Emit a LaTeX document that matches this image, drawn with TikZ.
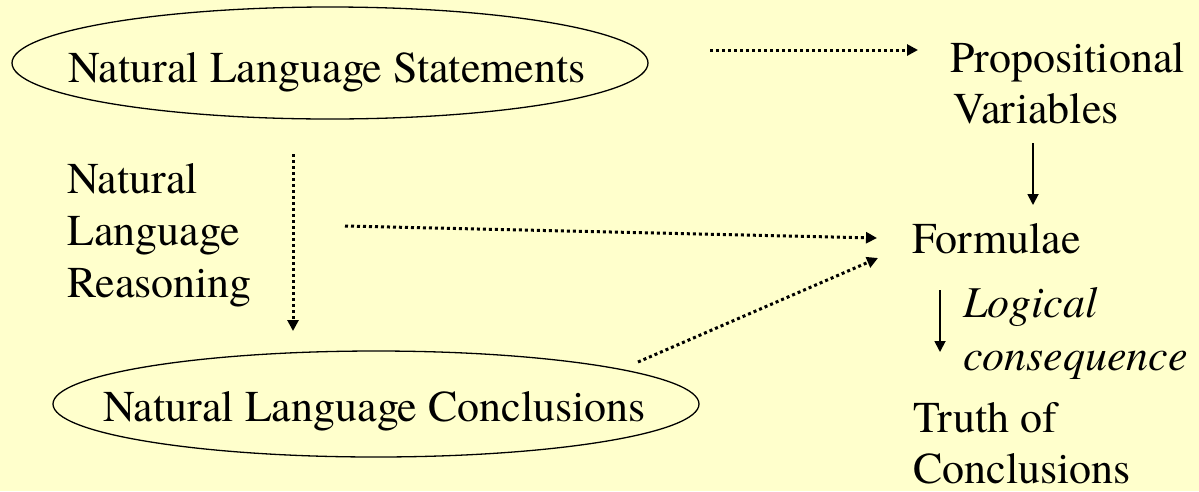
\documentclass[tikz,border=0pt]{standalone}
\usepackage{fontspec}
\setmainfont{texgyretermes}[Extension=.otf, UprightFont=*-regular, ItalicFont=*-italic, BoldFont=*-bold, BoldItalicFont=*-bolditalic]
\usetikzlibrary{shapes.geometric,arrows.meta}
\definecolor{bgyellow}{HTML}{FFFFCC}
\tikzset{
  lbl/.style={anchor=base west, inner sep=0pt, font=\fontsize{44}{53}\selectfont},
  oval/.style={draw, ellipse, line width=1.3pt, inner sep=0pt},
  dotarrow/.style={line width=3pt, dash pattern=on 3pt off 3pt, -{Triangle[length=11pt,width=11pt]}},
  solidarrow/.style={line width=1.8pt, -{Triangle[length=11pt,width=11pt]}},
}
\begin{document}
\begin{tikzpicture}[x=1pt,y=-1pt]
\fill[bgyellow] (0,0) rectangle (1199,491);
\useasboundingbox (0,0) rectangle (1199,491);
% ellipses
\node[oval, minimum width=636pt, minimum height=112pt] (e1) at (330,63) {};
\node[oval, minimum width=646pt, minimum height=106pt] (e2) at (376,404) {};
% texts
\node[lbl] (stm) at (68,82) {Natural Language Statements};
\node[lbl] (con) at (103,421) {Natural Language Conclusions};
\node[lbl] (prop1) at (950,72) {Propositional};
\node[lbl] (prop2) at (953,123) {Variables};
\node[lbl] (r1) at (67,193) {Natural};
\node[lbl] (r2) at (67,245) {Language};
\node[lbl] (r3) at (67,297) {Reasoning};
\node[lbl] (form) at (912,253) {Formulae};
\node[lbl] (lc1) at (963,317) {\itshape Logical};
\node[lbl] (lc2) at (963,370) {\itshape consequence};
\node[lbl] (t1) at (913,432) {Truth of};
\node[lbl] (t2) at (913,483) {Conclusions};
% connector endpoints
\coordinate (a1s) at (710,50);
\coordinate (a1e) at (918,50);
\coordinate (a2s) at (293,154);
\coordinate (a2e) at (293,331);
\coordinate (a3s) at (345,226);
\coordinate (a3e) at (877,238);
\coordinate (a4s) at (638,362);
\coordinate (a4e) at (878,258);
\coordinate (s1s) at (1033,143);
\coordinate (s1e) at (1033,205);
\coordinate (s2s) at (940,290);
\coordinate (s2e) at (940,352);
% connectors
\draw[dotarrow] (a1s) -- (a1e);
\draw[dotarrow] (a2s) -- (a2e);
\draw[dotarrow] (a3s) -- (a3e);
\draw[dotarrow] (a4s) -- (a4e);
\draw[solidarrow] (s1s) -- (s1e);
\draw[solidarrow] (s2s) -- (s2e);
\end{tikzpicture}
\end{document}
